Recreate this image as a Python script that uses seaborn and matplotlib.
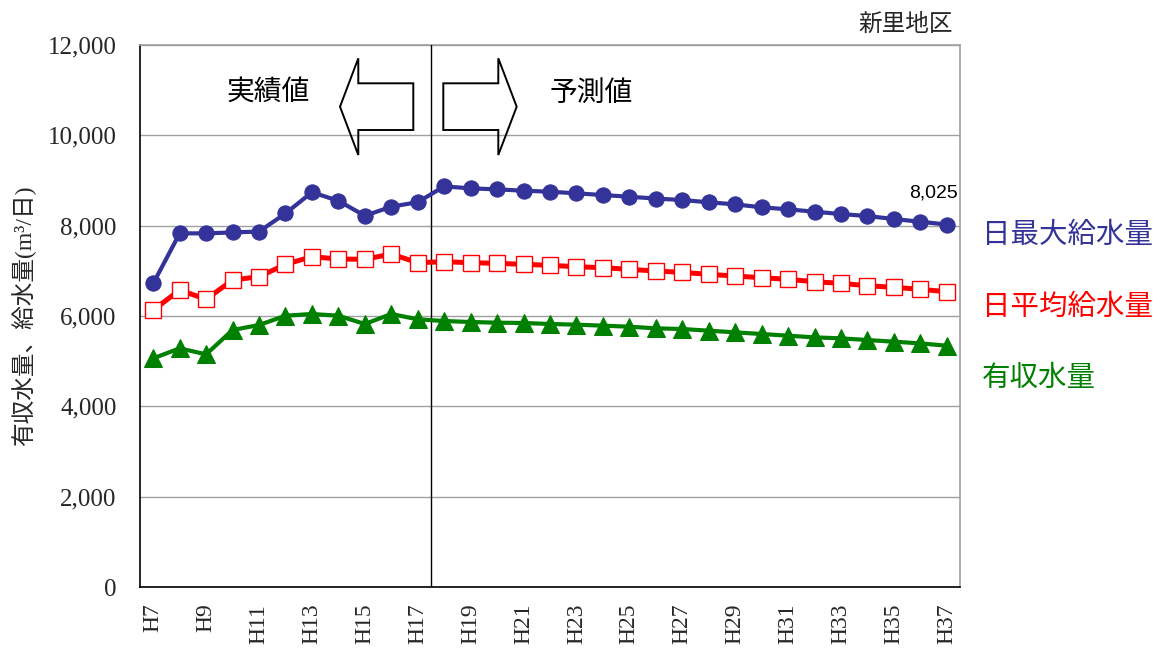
import numpy as np
import pandas as pd
import matplotlib
matplotlib.use("Agg")
import matplotlib.pyplot as plt
from matplotlib.patches import Polygon
import seaborn as sns

# ---- data ----
years = [f"H{i}" for i in range(7, 38)]
max_supply = [6720, 7830, 7830, 7850, 7870, 8270, 8740, 8550, 8220, 8420, 8520,
              8870, 8826, 8804, 8774, 8752, 8716, 8678, 8641, 8600, 8568, 8517,
              8472, 8406, 8362, 8309, 8258, 8213, 8147, 8087, 8025]
avg_supply = [6130, 6575, 6370, 6796, 6870, 7144, 7313, 7262, 7255, 7372, 7180,
              7202, 7180, 7166, 7144, 7122, 7091, 7069, 7033, 6996, 6966, 6922,
              6885, 6848, 6812, 6759, 6723, 6670, 6635, 6591, 6538]
revenue_water = [5063, 5284, 5151, 5690, 5800, 6007, 6044, 6007, 5823, 6044, 5926,
                 5889, 5867, 5852, 5845, 5823, 5808, 5786, 5763, 5727, 5712, 5675,
                 5638, 5601, 5564, 5527, 5505, 5468, 5431, 5394, 5342]
series_names = ["日最大給水量", "日平均給水量", "有収水量"]
y_ticks = [0, 2000, 4000, 6000, 8000, 10000, 12000]
n_actual = 11  # H7..H17 are actual values

sns.set_theme(style="white")
CJK = "Noto Sans CJK JP"
SERIF = "Liberation Serif"
plt.rcParams["font.family"] = [CJK, "DejaVu Sans"]

df = pd.DataFrame({"pos": np.arange(len(years)), "year": years,
                   "max": max_supply, "avg": avg_supply, "rev": revenue_water})

fig = plt.figure(figsize=(11.65, 6.48), dpi=100)
ax = fig.add_axes([140 / 1165, 1 - 587 / 648, 820 / 1165, 542 / 648])

blue, red, green = "#333399", "#FF0000", "#008000"

sns.lineplot(data=df, x="pos", y="max", ax=ax, color=blue, linewidth=3.0,
             marker="o", markersize=11, markeredgecolor=blue, markerfacecolor=blue,
             zorder=4)
sns.lineplot(data=df, x="pos", y="avg", ax=ax, color=red, linewidth=3.6,
             marker="s", markersize=11, markeredgecolor=red, markerfacecolor="white",
             markeredgewidth=1.0, zorder=4)
sns.lineplot(data=df, x="pos", y="rev", ax=ax, color=green, linewidth=3.0,
             marker="^", markersize=13, markeredgecolor=green, markerfacecolor=green,
             zorder=4)

ax.set_xlim(-0.5, len(years) - 0.5)
ax.set_ylim(0, 12000)

# y axis
ax.set_yticks(y_ticks)
ax.set_yticklabels([f"{v:,}" for v in y_ticks], fontfamily=SERIF, fontsize=18)
ax.yaxis.grid(True, color="#A0A0A0", linewidth=1.0)
ax.set_axisbelow(True)

# x axis: boundary ticks, labels at every other category
ax.set_xticks(np.arange(-0.5, len(years), 1.0))
ax.set_xticklabels([])
ax.set_xticks(np.arange(0, len(years), 2), minor=True)
ax.set_xticklabels(years[::2], minor=True, rotation=90, fontfamily=SERIF, fontsize=17)
ax.tick_params(axis="x", which="major", direction="in", length=7, width=1, color="black")
ax.tick_params(axis="x", which="minor", length=0, pad=12)
ax.tick_params(axis="y", which="major", direction="in", length=7, width=1, color="black", pad=17)
ax.set_xlabel("")
ax.set_ylabel("有収水量、給水量(m³/日)", fontsize=17, family=[SERIF, CJK], labelpad=8)

for side in ["left", "bottom"]:
    ax.spines[side].set_color("black")
    ax.spines[side].set_linewidth(1.2)
for side in ["top", "right"]:
    ax.spines[side].set_color("#A0A0A0")
    ax.spines[side].set_linewidth(1.2)

# divider between actual and forecast
ax.axvline(n_actual - 0.5, color="black", linewidth=1.0, zorder=3)

# arrows (axes fraction coordinates)
def px(x, y):
    return ((x - 140) / 820, (587 - y) / 542)

left_arrow = [px(340, 106.7), px(358.3, 58.3), px(358.3, 83.3), px(413.3, 83.3),
              px(413.3, 130), px(358.3, 130), px(358.3, 155)]
right_arrow = [px(443.3, 83.3), px(498.3, 83.3), px(498.3, 58.3), px(516.7, 106.7),
               px(498.3, 155), px(498.3, 130), px(443.3, 130)]
for pts in (left_arrow, right_arrow):
    ax.add_patch(Polygon(pts, closed=True, fill=False, edgecolor="black",
                         linewidth=1.4, transform=ax.transAxes, zorder=5))

ax.text(*px(268, 93), "実績値", transform=ax.transAxes, ha="center", va="center",
        fontsize=20, color="black")
ax.text(*px(591, 93), "予測値", transform=ax.transAxes, ha="center", va="center",
        fontsize=20, color="black")

# end value label
ax.annotate(f"{max_supply[-1]:,}", xy=(len(years) - 1, max_supply[-1]),
            xytext=(8, 23), textcoords="offset points", ha="right", va="center",
            fontsize=14, fontfamily="Liberation Sans", color="black")

# region title
fig.text(953 / 1165, 1 - 24 / 648, "新里地区", ha="right", va="center", fontsize=17)

# series labels on the right
for name, col, ypx in zip(series_names, [blue, red, green], [235, 307, 378]):
    fig.text(982 / 1165, 1 - ypx / 648, name, ha="left", va="center",
             fontsize=20.5, color=col)

fig.savefig("out.png", dpi=100)
